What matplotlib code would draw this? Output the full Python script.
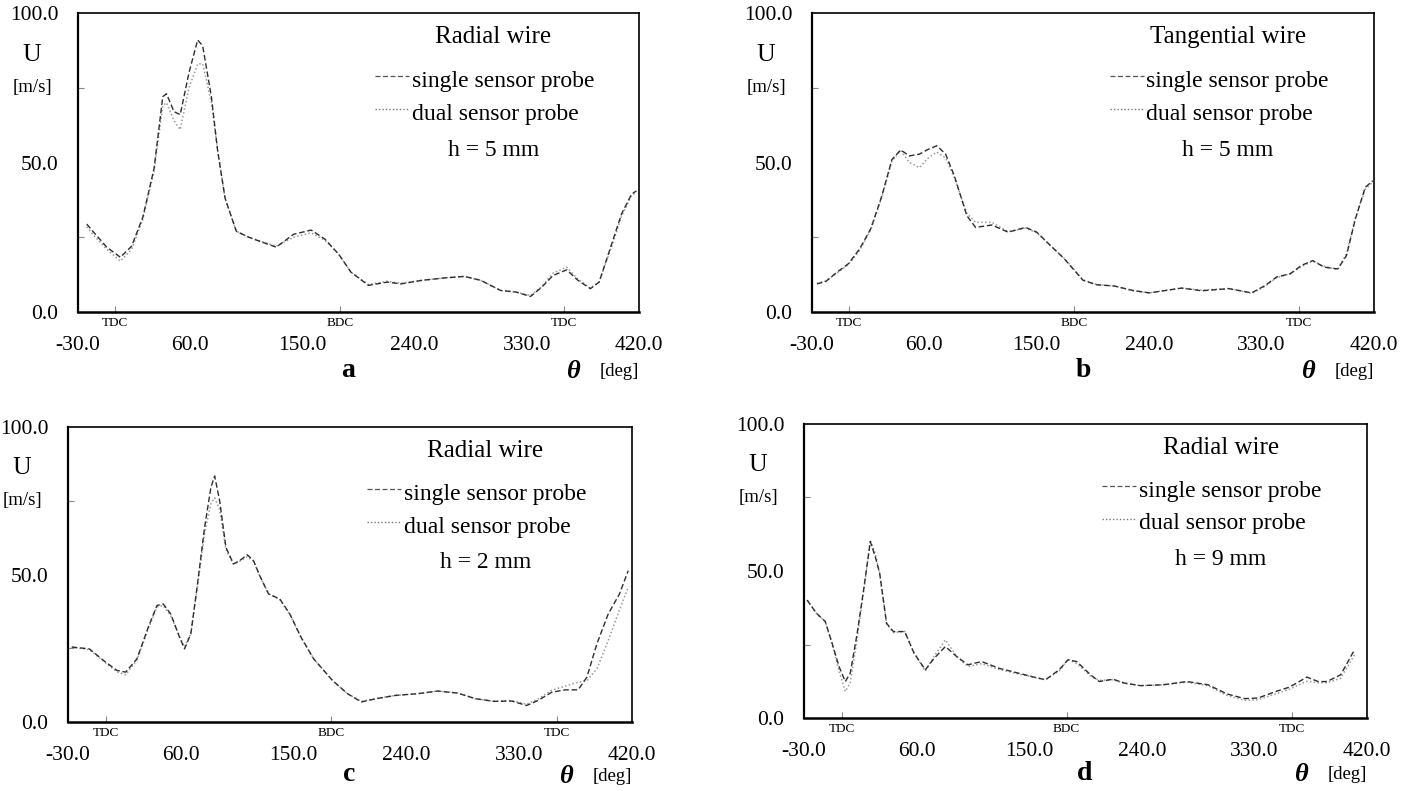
import numpy as np
import matplotlib
matplotlib.use('Agg')
import matplotlib.pyplot as plt

plt.rcParams['font.family'] = ['Liberation Serif', 'DejaVu Serif']

# panel a : radial wire, h = 5 mm
theta_a = [-23, -16, -7, 4, 13, 22, 31, 38, 41, 47, 52, 59, 66, 70, 77, 82, 88, 97, 107, 118,
           129, 143, 157, 168, 179, 189, 203, 218, 229, 246, 264, 280, 293, 309, 321, 333, 342,
           351, 362, 371, 381, 388, 399, 406, 414, 418]
single_a = [29.4, 26, 21.7, 18.3, 22, 31.7, 48, 72, 73, 67, 66, 80, 91, 89, 72, 54, 38, 27, 25, 23.3,
            21.7, 26, 27.4, 24.4, 19.4, 13.3, 8.9, 10, 9.4, 10.6, 11.4, 11.9, 10.6, 7.2, 6.7, 5.2, 8.3,
            12.2, 14.1, 10.6, 7.8, 10, 23.9, 32.8, 39.4, 40.5]
dual_a = [28.5, 25, 21, 17, 21, 31, 47, 69, 70, 64, 61, 75, 83, 83, 70, 54, 38, 27, 25, 23.5,
          22, 25, 26.5, 24, 19.4, 13.3, 9.2, 10.3, 9.6, 10.6, 11.4, 11.9, 10.6, 7.2, 6.7, 5.5, 8.5,
          13, 15, 11, 8, 10, 23, 32, 39, 40]

# panel b : tangential wire, h = 5 mm
theta_b = [-26, -19, -10, -1, 8, 17, 26, 34, 41, 48, 56, 63, 70, 77, 84, 94, 101, 114, 127, 141,
           150, 161, 172, 187, 198, 212, 227, 240, 253, 266, 282, 304, 322, 333, 342, 353, 362,
           371, 380, 391, 398, 405, 413, 419]
single_b = [9.4, 10.2, 13.3, 16.1, 21, 27.8, 38.9, 51, 54.2, 52.2, 52.8, 54.4, 55.6, 52.8, 45.5, 32.2,
            28.3, 29.1, 26.7, 28.3, 26.7, 22.2, 17.8, 10.6, 9.1, 8.7, 7.2, 6.4, 7.2, 8.0, 7.1, 7.8,
            6.4, 8.9, 11.7, 12.8, 15.6, 17.2, 15, 14.4, 18.9, 31, 41.7, 43.9]
dual_b = [9.6, 10.4, 13.0, 15.8, 20.5, 27.5, 38.5, 50.5, 54, 50, 48.3, 51.5, 53.5, 51.5, 45, 33,
          30, 30, 26.9, 28, 26.5, 22.2, 18, 10.8, 9.2, 8.7, 7.1, 6.4, 7.2, 8.0, 7.3, 7.9,
          6.2, 8.6, 11.5, 12.8, 15.2, 17.0, 15.3, 14.2, 19.5, 31.5, 41, 43.5]

# panel c : radial wire, h = 2 mm
theta_c = [-27, -13, 0, 9, 16, 25, 34, 41, 46, 52, 59, 63, 68, 73, 79, 84, 87, 91, 96, 102,
           107, 113, 118, 123, 130, 139, 147, 156, 166, 181, 193, 204, 216, 231, 249, 265, 281,
           295, 310, 324, 336, 345, 356, 367, 377, 384, 392, 401, 410, 417]
single_c = [25.4, 24.8, 20.3, 17.5, 16.9, 21.4, 32.1, 39.5, 40, 36.6, 28.7, 24.8, 29.9, 45.7, 66, 79.5,
            83.4, 75, 59.2, 53.6, 54.7, 56.7, 54.7, 49.6, 43.4, 41.7, 36.6, 28.7, 21.4, 14.1, 9.6,
            6.8, 7.9, 9.0, 9.6, 10.5, 9.8, 7.9, 7.0, 7.1, 5.6, 7.3, 10.1, 10.9, 10.9, 15.2, 26.5,
            36.6, 43.4, 51.3]
dual_c = [25.4, 24.5, 20.0, 17.0, 16.0, 21, 31.5, 39, 39.5, 36, 29, 25.5, 30, 45, 64, 74,
          76, 72, 58.5, 53.5, 54.5, 56, 54.5, 49.5, 43.5, 41.5, 36.5, 28.5, 21.5, 14, 9.6,
          7.0, 8.0, 9.0, 9.6, 10.5, 9.8, 7.9, 7.0, 7.3, 6.0, 7.8, 10.8, 12.2, 13.5, 14.0, 18,
          27.6, 38, 45.7]

# panel d : radial wire, h = 9 mm
theta_d = [-27.5, -20, -13, -7.5, -2, 3, 7, 12.5, 18, 23, 27, 30.5, 36, 41.5, 50.5, 58, 67, 74, 83,
           92, 101, 112, 126, 141, 152, 163, 174, 181, 188, 199, 206, 217, 226, 239, 257, 276,
           293, 308, 322, 333, 347, 358, 372, 381, 388, 399, 410]
single_d = [40.1, 35.6, 32.8, 25.4, 17.5, 12.4, 15.3, 28.8, 44.6, 60, 54.8, 49.2, 32.2, 29.4, 29.4,
            22, 16.4, 20.3, 24.3, 20.9, 18.1, 19.2, 16.9, 15.3, 14.1, 13, 16.4, 19.8, 19.2, 14.7,
            12.4, 13.2, 11.9, 11, 11.3, 12.4, 11.3, 8.2, 6.6, 6.8, 9.0, 10.5, 13.9, 12.4, 12.4,
            14.7, 23.2]
dual_d = [40.1, 35.6, 32.8, 25, 16, 9, 12, 27, 44, 60.5, 56, 49, 32, 29, 29.5,
          22, 16, 21, 26.6, 21, 17.5, 18.5, 16.5, 15, 14, 13, 16, 20, 18.5, 14.3,
          12.8, 13, 11.8, 11, 11.3, 12.2, 11, 7.7, 6.0, 6.2, 8.2, 9.8, 12.5, 12, 12,
          13.5, 21.5]

x_ticks = [-30, 60, 150, 240, 330, 420]
x_ticklabels = ['-30.0', '60.0', '150.0', '240.0', '330.0', '420.0']
y_ticks = [0, 50, 100]
y_ticklabels = ['0.0', '50.0', '100.0']
dead_centres = [0, 180, 360]
dead_labels = ['TDC', 'BDC', 'TDC']

# letter, title, h label, data, axes box in pixels, letter x, bottom label offset (pt)
panels = [
    ('a', 'Radial wire', 'h = 5 mm', theta_a, single_a, dual_a, [78, 13, 639, 312], 187, -42),
    ('b', 'Tangential wire', 'h = 5 mm', theta_b, single_b, dual_b, [812, 13, 1374, 312], 187, -42),
    ('c', 'Radial wire', 'h = 2 mm', theta_c, single_c, dual_c, [68, 427, 632, 722], 194, -38),
    ('d', 'Radial wire', 'h = 9 mm', theta_d, single_d, dual_d, [804, 424, 1367, 718], 194, -40),
]

W, H = 1413, 791
fig = plt.figure(figsize=(W / 100, H / 100), dpi=100)

for letter, title, hlabel, th, s, d, box, letter_x, off in panels:
    x0, y0, x1, y1 = box
    ax = fig.add_axes([x0 / W, 1 - y1 / H, (x1 - x0) / W, (y1 - y0) / H])

    ax.plot(th, d, color='#9a9a9a', linestyle=(0, (1, 1.5)), linewidth=1.1)
    ax.plot(th, s, color='#2e2e2e', linestyle=(0, (4, 2)), linewidth=1.0)

    ax.set_xlim(-30, 420)
    ax.set_ylim(0, 100)
    for sp in ax.spines.values():
        sp.set_linewidth(1.2)
    ax.spines['bottom'].set_linewidth(1.8)
    ax.spines['left'].set_linewidth(1.6)

    ax.set_xticks(x_ticks)
    ax.set_xticklabels(x_ticklabels, fontsize=15.5)
    ax.set_yticks(y_ticks)
    ax.set_yticklabels(y_ticklabels, fontsize=15.5)
    ax.tick_params(axis='x', length=0, pad=17)
    ax.tick_params(axis='y', length=0, pad=14)
    ax.set_yticks([25, 75], minor=True)
    ax.set_xticks(dead_centres, minor=True)
    ax.tick_params(which='minor', direction='in', length=4, width=0.8, color='#888888')

    for xc, lab in zip(dead_centres, dead_labels):
        ax.annotate(lab, xy=(xc, 0), xytext=(0, -8), textcoords='offset points',
                    ha='center', va='center', fontsize=9.5)

    ax.annotate('U', xy=(0, 86), xycoords=('axes fraction', 'data'), xytext=(-33, 0),
                textcoords='offset points', ha='center', va='center', fontsize=18.5)
    ax.annotate('[m/s]', xy=(0, 75), xycoords=('axes fraction', 'data'), xytext=(-33, 0),
                textcoords='offset points', ha='center', va='center', fontsize=13.5)

    ax.annotate(letter, xy=(letter_x, 0), xytext=(0, off), textcoords='offset points',
                ha='center', va='center', fontsize=20, fontweight='bold')
    ax.annotate('\u03b8', xy=(368, 0), xytext=(0, off - 1), textcoords='offset points',
                ha='center', va='center', fontsize=19, fontweight='bold', fontstyle='italic')
    ax.annotate('[deg]', xy=(404, 0), xytext=(0, off - 1), textcoords='offset points',
                ha='center', va='center', fontsize=13.5)

    ax.text(0.74, 92, title, transform=ax.get_yaxis_transform(), ha='center', va='center',
            fontsize=18)
    ax.text(0.595, 77.2, 'single sensor probe', transform=ax.get_yaxis_transform(),
            ha='left', va='center', fontsize=17)
    ax.text(0.595, 66.1, 'dual sensor probe', transform=ax.get_yaxis_transform(),
            ha='left', va='center', fontsize=17)
    ax.plot([0.53, 0.59], [79, 79], transform=ax.get_yaxis_transform(),
            color='#555555', linestyle=(0, (4, 2)), linewidth=0.9)
    ax.plot([0.53, 0.59], [67.8, 67.8], transform=ax.get_yaxis_transform(),
            color='#777777', linestyle=(0, (1, 1.5)), linewidth=1.0)
    ax.text(0.74, 53.9, hlabel, transform=ax.get_yaxis_transform(), ha='center', va='center',
            fontsize=17)

fig.savefig('out.png', dpi=100)
